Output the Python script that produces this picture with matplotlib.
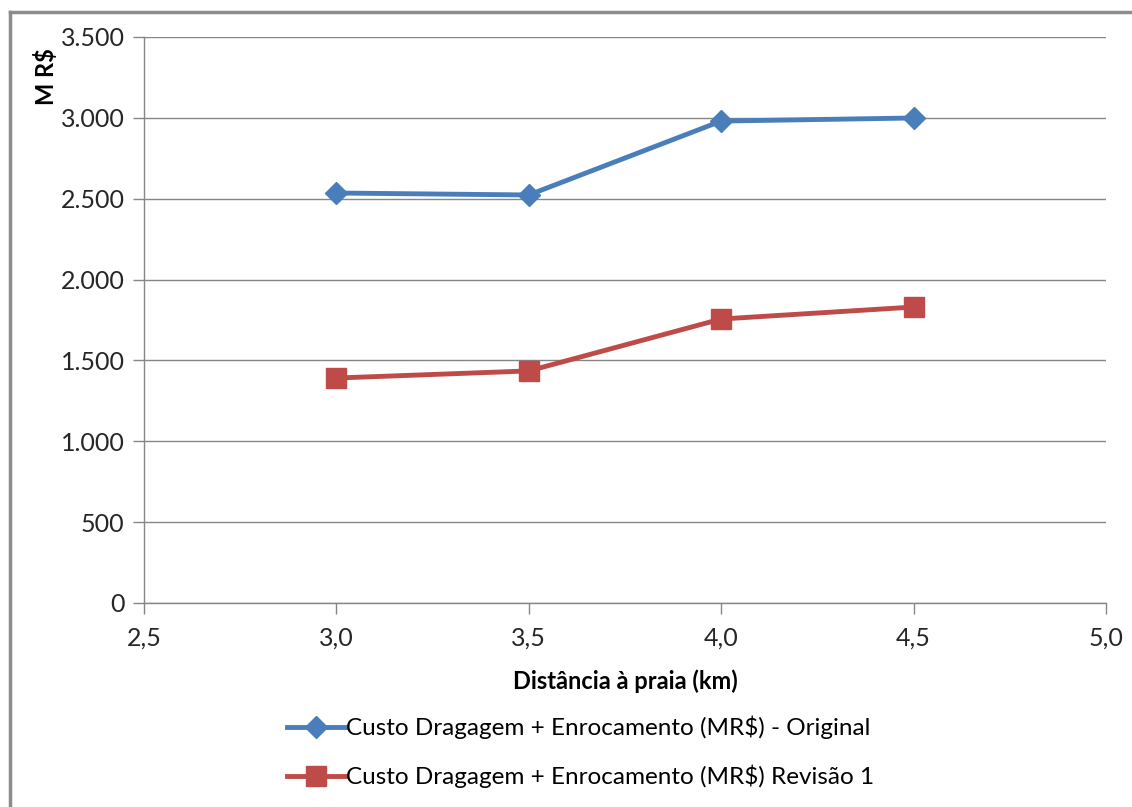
import matplotlib
matplotlib.use("Agg")
import matplotlib.pyplot as plt
from matplotlib.lines import Line2D
from matplotlib.ticker import FuncFormatter, MultipleLocator

plt.rcParams['font.family'] = ['Lato', 'DejaVu Sans']

distance_km = [3.0, 3.5, 4.0, 4.5]
cost_original = [2535, 2523, 2980, 2999]
cost_revision = [1391, 1435, 1756, 1830]
label_original = "Custo Dragagem + Enrocamento (MR$) - Original"
label_revision = "Custo Dragagem + Enrocamento (MR$) Revisão 1"

blue = "#4a7ebb"
red = "#be4b48"
grid_gray = "#868686"

fig = plt.figure(figsize=(11.32, 8.07), dpi=100)
ax = fig.add_axes([0.1272, 0.2528, 0.8498, 0.7014])

ax.plot(distance_km, cost_original, color=blue, lw=3.5, marker="D", ms=11,
        markerfacecolor=blue, markeredgecolor=blue, label=label_original, zorder=3)
ax.plot(distance_km, cost_revision, color=red, lw=3.5, marker="s", ms=15,
        markerfacecolor=red, markeredgecolor=red, label=label_revision, zorder=3)

ax.set_xlim(2.5, 5.0)
ax.set_ylim(0, 3500)
ax.xaxis.set_major_locator(MultipleLocator(0.5))
ax.yaxis.set_major_locator(MultipleLocator(500))
ax.xaxis.set_major_formatter(FuncFormatter(lambda v, p: f"{v:.1f}".replace(".", ",")))
ax.yaxis.set_major_formatter(FuncFormatter(lambda v, p: f"{int(round(v)):,}".replace(",", ".")))

ax.grid(axis="y", color=grid_gray, lw=1)
ax.set_axisbelow(True)
for s in ("top", "right"):
    ax.spines[s].set_visible(False)
for s in ("left", "bottom"):
    ax.spines[s].set_color(grid_gray)
    ax.spines[s].set_linewidth(1)
ax.tick_params(axis="both", colors=grid_gray, length=8, width=1, labelsize=18,
               labelcolor="#262626")
ax.tick_params(axis="x", pad=9)
ax.tick_params(axis="y", pad=6)

ax.set_xlabel("Distância à praia (km)", fontsize=17, fontweight="bold", labelpad=14)
ax.set_ylabel("M R$", fontsize=17, fontweight="bold", labelpad=0)
ax.yaxis.set_label_coords(-0.089, 0.93)

handles = [
    Line2D([], [], color=blue, lw=3.5, marker="D", ms=11),
    Line2D([], [], color=red, lw=3.5, marker="s", ms=15),
]
fig.legend(handles, [label_original, label_revision], loc="center",
           bbox_to_anchor=(0.513, 0.068), frameon=False, fontsize=17.5,
           handlelength=2.4, handletextpad=0.05, labelspacing=1.05)

# outer chart frame
fig.add_artist(Line2D([10 / 1132, 1.0], [1 - 12 / 807] * 2, color="#8c8c8c", lw=2.5,
                      transform=fig.transFigure))
fig.add_artist(Line2D([10 / 1132] * 2, [0.0, 1 - 12 / 807], color="#8c8c8c", lw=2.5,
                      transform=fig.transFigure))

fig.savefig("out.png", dpi=100)
